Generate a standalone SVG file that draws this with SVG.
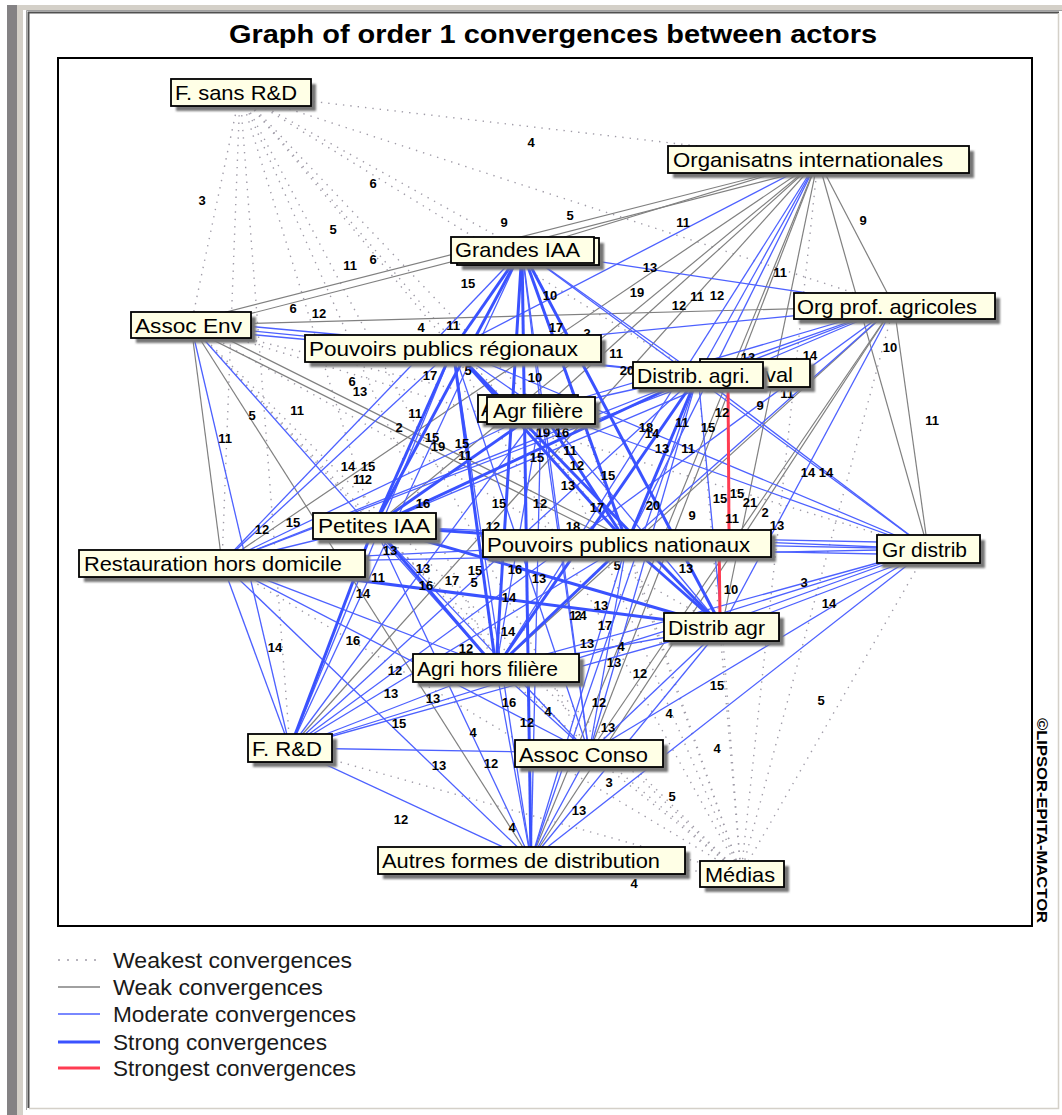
<svg xmlns="http://www.w3.org/2000/svg" width="1062" height="1115" viewBox="0 0 1062 1115">
<defs>
  <filter id="soft" x="-10%" y="-30%" width="130%" height="170%">
    <feGaussianBlur stdDeviation="1.3"/>
  </filter>
</defs>
<style>
  .w0 { stroke:#a09ca8; stroke-width:1.4; stroke-dasharray:1.4 6; fill:none; }
  .w1 { stroke:#808080; stroke-width:1.2; fill:none; }
  .w2 { stroke:#4d61ff; stroke-width:1.3; fill:none; }
  .w3 { stroke:#3a52ff; stroke-width:3; fill:none; }
  .w4 { stroke:#ff3c52; stroke-width:3; fill:none; }
  .lbl { font-family:"Liberation Sans", Arial, sans-serif; font-size:13px; font-weight:bold; fill:#000; text-anchor:middle; }
  .box { fill:#ffffe6; stroke:#000; stroke-width:1.8; }
  .shadow { fill:#767676; filter:url(#soft); }
  .name { font-family:"Liberation Sans", Arial, sans-serif; font-size:21px; fill:#000; }
  .leg { font-family:"Liberation Sans", Arial, sans-serif; font-size:22px; fill:#1a1a1a; }
</style>

<!-- window chrome -->
<rect x="0" y="0" width="1062" height="1115" fill="#ffffff"/>
<rect x="7" y="5" width="10" height="1110" fill="#848284"/>
<rect x="17" y="5" width="1045" height="5" fill="#d4d0c8"/>
<rect x="17" y="5" width="6" height="1110" fill="#d4d0c8"/>
<path d="M26.5,1110 V10.5 H1062" stroke="#a0a0a0" stroke-width="1" fill="none"/>
<path d="M28.5,1108 V12.5 H1059" stroke="#505050" stroke-width="2" fill="none"/>
<path d="M29,1108.5 H1058.5 V13" stroke="#d4d0c8" stroke-width="1.5" fill="none"/>

<!-- title -->
<text x="229" y="43" font-family="Liberation Sans, Arial, sans-serif" font-size="26" font-weight="bold" textLength="648" lengthAdjust="spacingAndGlyphs" fill="#000">Graph of order 1 convergences between actors</text>

<!-- plot frame -->
<rect x="58" y="58" width="974" height="868" fill="#ffffff" stroke="#000" stroke-width="2"/>

<g id="connectors">
  <g class="w0">
    <line x1="240" y1="93" x2="818" y2="160"/>
    <line x1="240" y1="93" x2="522" y2="250"/>
    <line x1="240" y1="93" x2="894" y2="306"/>
    <line x1="240" y1="93" x2="191" y2="325"/>
    <line x1="240" y1="93" x2="453" y2="349"/>
    <line x1="240" y1="93" x2="698" y2="375"/>
    <line x1="240" y1="93" x2="541" y2="410"/>
    <line x1="240" y1="93" x2="374" y2="526"/>
    <line x1="240" y1="93" x2="222" y2="563"/>
    <line x1="240" y1="93" x2="627" y2="543"/>
    <line x1="240" y1="93" x2="290" y2="748"/>
    <line x1="240" y1="93" x2="496" y2="668"/>
    <line x1="240" y1="93" x2="589" y2="753"/>
    <line x1="741" y1="874" x2="818" y2="160"/>
    <line x1="741" y1="874" x2="894" y2="306"/>
    <line x1="741" y1="874" x2="928" y2="549"/>
    <line x1="741" y1="874" x2="698" y2="375"/>
    <line x1="741" y1="874" x2="627" y2="543"/>
    <line x1="741" y1="874" x2="722" y2="627"/>
    <line x1="741" y1="874" x2="589" y2="753"/>
    <line x1="741" y1="874" x2="531" y2="860"/>
    <line x1="741" y1="874" x2="496" y2="668"/>
    <line x1="741" y1="874" x2="541" y2="410"/>
    <line x1="741" y1="874" x2="522" y2="250"/>
    <line x1="741" y1="874" x2="453" y2="349"/>
    <line x1="741" y1="874" x2="374" y2="526"/>
    <line x1="741" y1="874" x2="222" y2="563"/>
    <line x1="741" y1="874" x2="290" y2="748"/>
    <line x1="741" y1="874" x2="191" y2="325"/>
    <line x1="191" y1="325" x2="374" y2="526"/>
    <line x1="191" y1="325" x2="589" y2="753"/>
    <line x1="191" y1="325" x2="928" y2="549"/>
    <line x1="191" y1="325" x2="541" y2="410"/>
    <line x1="191" y1="325" x2="722" y2="627"/>
  </g>
  <g class="w1">
    <line x1="815" y1="162" x2="191" y2="321"/>
    <line x1="815" y1="168" x2="191" y2="329"/>
    <line x1="818" y1="160" x2="522" y2="250"/>
    <line x1="818" y1="160" x2="894" y2="306"/>
    <line x1="818" y1="160" x2="928" y2="549"/>
    <line x1="818" y1="160" x2="541" y2="410"/>
    <line x1="818" y1="160" x2="374" y2="526"/>
    <line x1="818" y1="160" x2="222" y2="563"/>
    <line x1="818" y1="160" x2="290" y2="748"/>
    <line x1="818" y1="160" x2="722" y2="627"/>
    <line x1="818" y1="160" x2="589" y2="753"/>
    <line x1="818" y1="160" x2="531" y2="860"/>
    <line x1="191" y1="325" x2="894" y2="306"/>
    <line x1="191" y1="325" x2="222" y2="563"/>
    <line x1="191" y1="325" x2="531" y2="860"/>
    <line x1="191" y1="321" x2="627" y2="539"/>
    <line x1="191" y1="329" x2="627" y2="547"/>
    <line x1="894" y1="306" x2="496" y2="668"/>
    <line x1="894" y1="306" x2="589" y2="753"/>
    <line x1="894" y1="306" x2="531" y2="860"/>
    <line x1="894" y1="306" x2="928" y2="549"/>
  </g>
  <g class="w2">
    <line x1="818" y1="160" x2="453" y2="349"/>
    <line x1="818" y1="160" x2="698" y2="375"/>
    <line x1="818" y1="160" x2="627" y2="543"/>
    <line x1="818" y1="160" x2="496" y2="668"/>
    <line x1="191" y1="321" x2="453" y2="345"/>
    <line x1="191" y1="329" x2="453" y2="353"/>
    <line x1="191" y1="325" x2="290" y2="748"/>
    <line x1="191" y1="325" x2="496" y2="668"/>
    <line x1="191" y1="325" x2="698" y2="375"/>
    <line x1="522" y1="250" x2="894" y2="306"/>
    <line x1="522" y1="250" x2="698" y2="375"/>
    <line x1="522" y1="250" x2="541" y2="410"/>
    <line x1="522" y1="250" x2="222" y2="563"/>
    <line x1="522" y1="250" x2="928" y2="549"/>
    <line x1="522" y1="250" x2="290" y2="748"/>
    <line x1="522" y1="250" x2="589" y2="753"/>
    <line x1="894" y1="306" x2="453" y2="349"/>
    <line x1="894" y1="306" x2="698" y2="375"/>
    <line x1="894" y1="306" x2="541" y2="410"/>
    <line x1="894" y1="306" x2="374" y2="526"/>
    <line x1="894" y1="306" x2="222" y2="563"/>
    <line x1="894" y1="306" x2="627" y2="543"/>
    <line x1="894" y1="306" x2="722" y2="627"/>
    <line x1="894" y1="306" x2="290" y2="748"/>
    <line x1="453" y1="349" x2="698" y2="375"/>
    <line x1="453" y1="349" x2="541" y2="410"/>
    <line x1="453" y1="349" x2="222" y2="563"/>
    <line x1="453" y1="349" x2="928" y2="549"/>
    <line x1="453" y1="349" x2="290" y2="748"/>
    <line x1="453" y1="349" x2="589" y2="753"/>
    <line x1="453" y1="349" x2="531" y2="860"/>
    <line x1="698" y1="375" x2="541" y2="410"/>
    <line x1="698" y1="375" x2="222" y2="563"/>
    <line x1="698" y1="375" x2="928" y2="549"/>
    <line x1="698" y1="375" x2="722" y2="627"/>
    <line x1="698" y1="375" x2="290" y2="748"/>
    <line x1="698" y1="375" x2="589" y2="753"/>
    <line x1="698" y1="375" x2="531" y2="860"/>
    <line x1="541" y1="410" x2="222" y2="563"/>
    <line x1="541" y1="410" x2="928" y2="549"/>
    <line x1="541" y1="410" x2="722" y2="627"/>
    <line x1="541" y1="410" x2="496" y2="668"/>
    <line x1="541" y1="410" x2="290" y2="748"/>
    <line x1="541" y1="410" x2="589" y2="753"/>
    <line x1="541" y1="410" x2="531" y2="860"/>
    <line x1="374" y1="526" x2="222" y2="563"/>
    <line x1="374" y1="526" x2="928" y2="549"/>
    <line x1="374" y1="526" x2="589" y2="753"/>
    <line x1="374" y1="526" x2="531" y2="860"/>
    <line x1="222" y1="563" x2="627" y2="543"/>
    <line x1="222" y1="563" x2="928" y2="549"/>
    <line x1="222" y1="563" x2="496" y2="668"/>
    <line x1="222" y1="563" x2="290" y2="748"/>
    <line x1="222" y1="563" x2="589" y2="753"/>
    <line x1="222" y1="563" x2="531" y2="860"/>
    <line x1="627" y1="537" x2="928" y2="543"/>
    <line x1="627" y1="543" x2="928" y2="549"/>
    <line x1="627" y1="549" x2="928" y2="555"/>
    <line x1="627" y1="543" x2="290" y2="748"/>
    <line x1="627" y1="543" x2="589" y2="753"/>
    <line x1="627" y1="543" x2="531" y2="860"/>
    <line x1="928" y1="549" x2="722" y2="623"/>
    <line x1="928" y1="553" x2="722" y2="631"/>
    <line x1="928" y1="549" x2="496" y2="668"/>
    <line x1="928" y1="549" x2="589" y2="753"/>
    <line x1="928" y1="549" x2="531" y2="860"/>
    <line x1="928" y1="549" x2="290" y2="748"/>
    <line x1="722" y1="627" x2="496" y2="668"/>
    <line x1="722" y1="627" x2="290" y2="748"/>
    <line x1="722" y1="627" x2="589" y2="753"/>
    <line x1="722" y1="627" x2="531" y2="860"/>
    <line x1="496" y1="668" x2="290" y2="748"/>
    <line x1="496" y1="668" x2="589" y2="753"/>
    <line x1="496" y1="668" x2="531" y2="860"/>
    <line x1="290" y1="748" x2="589" y2="753"/>
    <line x1="290" y1="748" x2="531" y2="860"/>
    <line x1="589" y1="753" x2="531" y2="860"/>
  </g>
  <g class="w3">
    <line x1="522" y1="250" x2="453" y2="349"/>
    <line x1="522" y1="250" x2="374" y2="526"/>
    <line x1="522" y1="250" x2="627" y2="543"/>
    <line x1="522" y1="250" x2="722" y2="627"/>
    <line x1="522" y1="250" x2="496" y2="668"/>
    <line x1="522" y1="250" x2="531" y2="860"/>
    <line x1="453" y1="349" x2="374" y2="526"/>
    <line x1="453" y1="349" x2="627" y2="543"/>
    <line x1="453" y1="349" x2="722" y2="627"/>
    <line x1="453" y1="349" x2="496" y2="668"/>
    <line x1="698" y1="375" x2="374" y2="526"/>
    <line x1="698" y1="375" x2="627" y2="543"/>
    <line x1="698" y1="375" x2="496" y2="668"/>
    <line x1="541" y1="410" x2="374" y2="526"/>
    <line x1="541" y1="410" x2="627" y2="543"/>
    <line x1="374" y1="526" x2="627" y2="543"/>
    <line x1="374" y1="526" x2="722" y2="627"/>
    <line x1="374" y1="526" x2="496" y2="668"/>
    <line x1="374" y1="526" x2="290" y2="748"/>
    <line x1="222" y1="563" x2="722" y2="627"/>
    <line x1="627" y1="543" x2="722" y2="627"/>
    <line x1="627" y1="543" x2="496" y2="668"/>
  </g>
  <g class="w4">
    <line x1="728" y1="380" x2="729" y2="530"/>
    <line x1="719" y1="535" x2="720" y2="620"/>
  </g>
</g>

<g id="edge-labels" class="lbl">
  <text x="531" y="147">4</text>
  <text x="202" y="205">3</text>
  <text x="373" y="188">6</text>
  <text x="333" y="234">5</text>
  <text x="350" y="270">11</text>
  <text x="373" y="264">6</text>
  <text x="504" y="227">9</text>
  <text x="570" y="220">5</text>
  <text x="683" y="227">11</text>
  <text x="863" y="225">9</text>
  <text x="650" y="272">13</text>
  <text x="637" y="297">19</text>
  <text x="550" y="300">10</text>
  <text x="468" y="288">15</text>
  <text x="679" y="310">12</text>
  <text x="697" y="301">11</text>
  <text x="717" y="300">12</text>
  <text x="780" y="277">11</text>
  <text x="293" y="313">6</text>
  <text x="319" y="318">12</text>
  <text x="421" y="332">4</text>
  <text x="453" y="330">11</text>
  <text x="556" y="332">17</text>
  <text x="587" y="338">3</text>
  <text x="616" y="358">11</text>
  <text x="748" y="362">13</text>
  <text x="810" y="360">14</text>
  <text x="890" y="352">10</text>
  <text x="627" y="375">20</text>
  <text x="430" y="380">17</text>
  <text x="468" y="375">5</text>
  <text x="535" y="382">10</text>
  <text x="352" y="386">6</text>
  <text x="360" y="396">13</text>
  <text x="297" y="415">11</text>
  <text x="252" y="420">5</text>
  <text x="225" y="443">11</text>
  <text x="415" y="418">11</text>
  <text x="399" y="432">2</text>
  <text x="787" y="398">11</text>
  <text x="760" y="410">9</text>
  <text x="722" y="417">12</text>
  <text x="682" y="427">11</text>
  <text x="708" y="432">15</text>
  <text x="646" y="432">18</text>
  <text x="652" y="438">14</text>
  <text x="662" y="453">13</text>
  <text x="688" y="453">11</text>
  <text x="432" y="442">15</text>
  <text x="438" y="451">19</text>
  <text x="462" y="448">15</text>
  <text x="465" y="460">11</text>
  <text x="543" y="437">19</text>
  <text x="562" y="437">16</text>
  <text x="537" y="462">15</text>
  <text x="570" y="455">11</text>
  <text x="577" y="470">12</text>
  <text x="568" y="490">13</text>
  <text x="608" y="480">15</text>
  <text x="348" y="471">14</text>
  <text x="368" y="471">15</text>
  <text x="362" y="484" letter-spacing="-1">112</text>
  <text x="262" y="534">12</text>
  <text x="293" y="527">15</text>
  <text x="423" y="508">16</text>
  <text x="499" y="508">15</text>
  <text x="540" y="508">12</text>
  <text x="597" y="512">17</text>
  <text x="653" y="510">20</text>
  <text x="692" y="520">9</text>
  <text x="720" y="503">15</text>
  <text x="737" y="498">15</text>
  <text x="750" y="507">21</text>
  <text x="732" y="523">11</text>
  <text x="765" y="517">2</text>
  <text x="777" y="530">13</text>
  <text x="808" y="477">14</text>
  <text x="826" y="477">14</text>
  <text x="932" y="425">11</text>
  <text x="493" y="531">12</text>
  <text x="573" y="531">18</text>
  <text x="390" y="555">13</text>
  <text x="378" y="582">11</text>
  <text x="363" y="598">14</text>
  <text x="423" y="573">13</text>
  <text x="426" y="590">16</text>
  <text x="452" y="585">17</text>
  <text x="475" y="575">15</text>
  <text x="474" y="587">5</text>
  <text x="515" y="574">16</text>
  <text x="539" y="583">13</text>
  <text x="509" y="602">14</text>
  <text x="617" y="570">5</text>
  <text x="686" y="573">13</text>
  <text x="731" y="594">10</text>
  <text x="804" y="587">3</text>
  <text x="829" y="608">14</text>
  <text x="601" y="610">13</text>
  <text x="605" y="630">17</text>
  <text x="577" y="620" letter-spacing="-2">124</text>
  <text x="587" y="648">13</text>
  <text x="621" y="651">4</text>
  <text x="614" y="667">13</text>
  <text x="508" y="636">14</text>
  <text x="466" y="653">12</text>
  <text x="395" y="675">12</text>
  <text x="391" y="698">13</text>
  <text x="433" y="703">13</text>
  <text x="509" y="707">16</text>
  <text x="548" y="716">4</text>
  <text x="527" y="727">12</text>
  <text x="640" y="678">12</text>
  <text x="599" y="707">12</text>
  <text x="608" y="732">13</text>
  <text x="717" y="690">15</text>
  <text x="669" y="718">4</text>
  <text x="717" y="753">4</text>
  <text x="821" y="705">5</text>
  <text x="399" y="728">15</text>
  <text x="473" y="737">4</text>
  <text x="491" y="768">12</text>
  <text x="439" y="770">13</text>
  <text x="609" y="787">3</text>
  <text x="672" y="801">5</text>
  <text x="579" y="815">13</text>
  <text x="512" y="832">4</text>
  <text x="401" y="824">12</text>
  <text x="634" y="888">4</text>
  <text x="275" y="652">14</text>
  <text x="353" y="645">16</text>
</g>

<!-- actor boxes -->
<g id="n-fsr">
  <rect class="shadow" x="176" y="84" width="140" height="27"/>
  <rect class="box" x="171" y="79" width="140" height="27"/>
  <text class="name" x="175" y="100" textLength="122" lengthAdjust="spacingAndGlyphs">F. sans R&amp;D</text>
</g>
<g id="n-oi">
  <rect class="shadow" x="673" y="151" width="301" height="27"/>
  <rect class="box" x="668" y="146" width="301" height="27"/>
  <text class="name" x="673" y="167" textLength="270" lengthAdjust="spacingAndGlyphs">Organisatns internationales</text>
</g>
<g id="n-giaa">
  <rect class="shadow" x="462" y="243" width="142" height="27"/>
  <rect class="box" x="457" y="238" width="142" height="27"/>
  <rect class="box" x="451" y="237" width="143" height="26"/>
  <text class="name" x="455" y="257" textLength="125" lengthAdjust="spacingAndGlyphs">Grandes IAA</text>
</g>
<g id="n-opa">
  <rect class="shadow" x="799" y="298" width="201" height="26"/>
  <rect class="box" x="794" y="293" width="201" height="26"/>
  <text class="name" x="797" y="314" textLength="180" lengthAdjust="spacingAndGlyphs">Org prof. agricoles</text>
</g>
<g id="n-ae">
  <rect class="shadow" x="136" y="317" width="120" height="26"/>
  <rect class="box" x="131" y="312" width="120" height="26"/>
  <text class="name" x="135" y="333" textLength="107" lengthAdjust="spacingAndGlyphs">Assoc Env</text>
</g>
<g id="n-ppr">
  <rect class="shadow" x="310" y="340" width="296" height="27"/>
  <rect class="box" x="305" y="335" width="296" height="27"/>
  <text class="name" x="309" y="356" textLength="269" lengthAdjust="spacingAndGlyphs">Pouvoirs publics régionaux</text>
</g>
<g id="n-aval">
  <rect class="shadow" x="705" y="364" width="110" height="28"/>
  <rect class="box" x="700" y="359" width="110" height="28"/>
  <text class="name" x="765" y="382" textLength="28" lengthAdjust="spacingAndGlyphs">val</text>
</g>
<g id="n-dai">
  <rect class="shadow" x="638" y="367" width="130" height="26"/>
  <rect class="box" x="633" y="362" width="130" height="26"/>
  <text class="name" x="637" y="383" textLength="113" lengthAdjust="spacingAndGlyphs">Distrib. agri.</text>
</g>
<g id="n-ax">
  <rect class="shadow" x="483" y="400" width="100" height="27"/>
  <rect class="box" x="478" y="395" width="100" height="27"/>
  <text class="name" x="481" y="416">A</text>
</g>
<g id="n-af">
  <rect class="shadow" x="492" y="402" width="108" height="27"/>
  <rect class="box" x="487" y="397" width="108" height="27"/>
  <text class="name" x="493" y="418" textLength="90" lengthAdjust="spacingAndGlyphs">Agr filière</text>
</g>
<g id="n-piaa">
  <rect class="shadow" x="318" y="518" width="123" height="26"/>
  <rect class="box" x="313" y="513" width="123" height="26"/>
  <text class="name" x="318" y="533" textLength="112" lengthAdjust="spacingAndGlyphs">Petites IAA</text>
</g>
<g id="n-rhd">
  <rect class="shadow" x="84" y="555" width="286" height="27"/>
  <rect class="box" x="79" y="550" width="286" height="27"/>
  <text class="name" x="84" y="571" textLength="258" lengthAdjust="spacingAndGlyphs">Restauration hors domicile</text>
</g>
<g id="n-ppn">
  <rect class="shadow" x="488" y="535" width="288" height="27"/>
  <rect class="box" x="483" y="530" width="288" height="27"/>
  <text class="name" x="487" y="552" textLength="263" lengthAdjust="spacingAndGlyphs">Pouvoirs publics nationaux</text>
</g>
<g id="n-gd">
  <rect class="shadow" x="882" y="540" width="103" height="28"/>
  <rect class="box" x="877" y="535" width="103" height="28"/>
  <text class="name" x="882" y="557" textLength="85" lengthAdjust="spacingAndGlyphs">Gr distrib</text>
</g>
<g id="n-da">
  <rect class="shadow" x="669" y="618" width="115" height="28"/>
  <rect class="box" x="664" y="613" width="115" height="28"/>
  <text class="name" x="668" y="635" textLength="97" lengthAdjust="spacingAndGlyphs">Distrib agr</text>
</g>
<g id="n-ahf">
  <rect class="shadow" x="418" y="659" width="166" height="28"/>
  <rect class="box" x="413" y="654" width="166" height="28"/>
  <text class="name" x="417" y="676" textLength="141" lengthAdjust="spacingAndGlyphs">Agri hors filière</text>
</g>
<g id="n-frd">
  <rect class="shadow" x="253" y="739" width="84" height="28"/>
  <rect class="box" x="248" y="734" width="84" height="28"/>
  <text class="name" x="252" y="756" textLength="70" lengthAdjust="spacingAndGlyphs">F. R&amp;D</text>
</g>
<g id="n-ac">
  <rect class="shadow" x="520" y="745" width="148" height="27"/>
  <rect class="box" x="515" y="740" width="148" height="27"/>
  <text class="name" x="519" y="762" textLength="129" lengthAdjust="spacingAndGlyphs">Assoc Conso</text>
</g>
<g id="n-afd">
  <rect class="shadow" x="383" y="852" width="307" height="27"/>
  <rect class="box" x="378" y="847" width="307" height="27"/>
  <text class="name" x="382" y="868" textLength="278" lengthAdjust="spacingAndGlyphs">Autres formes de distribution</text>
</g>
<g id="n-med">
  <rect class="shadow" x="705" y="866" width="84" height="26"/>
  <rect class="box" x="700" y="861" width="84" height="26"/>
  <text class="name" x="705" y="882" textLength="70" lengthAdjust="spacingAndGlyphs">Médias</text>
</g>

<!-- copyright -->
<text transform="translate(1037,718) rotate(90)" font-family="Liberation Sans, Arial, sans-serif" font-size="15" font-weight="bold" textLength="205" lengthAdjust="spacingAndGlyphs" fill="#000">©LIPSOR-EPITA-MACTOR</text>

<!-- legend -->
<g id="legend">
  <line class="w0" x1="58" y1="960" x2="100" y2="960" style="stroke-dasharray:2 7"/>
  <line class="w1" x1="58" y1="987" x2="100" y2="987" style="stroke-width:1.5"/>
  <line class="w2" x1="58" y1="1014" x2="100" y2="1014" style="stroke-width:1.5"/>
  <line class="w3" x1="58" y1="1042" x2="100" y2="1042"/>
  <line class="w4" x1="58" y1="1068" x2="100" y2="1068"/>
  <text class="leg" x="113" y="968" textLength="239" lengthAdjust="spacingAndGlyphs">Weakest convergences</text>
  <text class="leg" x="113" y="995" textLength="210" lengthAdjust="spacingAndGlyphs">Weak convergences</text>
  <text class="leg" x="113" y="1022" textLength="243" lengthAdjust="spacingAndGlyphs">Moderate convergences</text>
  <text class="leg" x="113" y="1050" textLength="214" lengthAdjust="spacingAndGlyphs">Strong convergences</text>
  <text class="leg" x="113" y="1076" textLength="243" lengthAdjust="spacingAndGlyphs">Strongest convergences</text>
</g>
</svg>
